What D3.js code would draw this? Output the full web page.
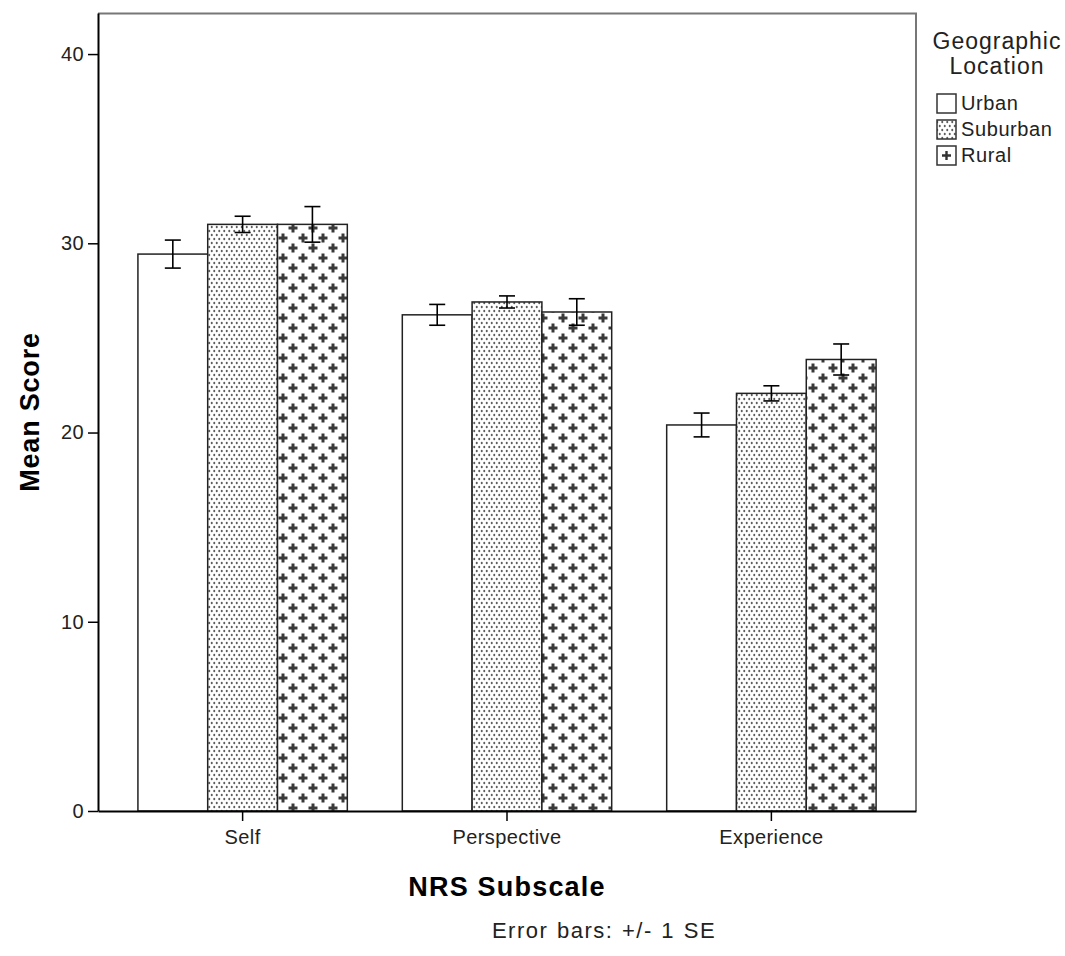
<!DOCTYPE html>
<html>
<head>
<meta charset="utf-8">
<script src="https://cdn.jsdelivr.net/npm/d3@7"></script>
<style>
  body { margin: 0; background: #fff; }
  text { font-family: "Liberation Sans", Arial, sans-serif; }
</style>
</head>
<body>
<div class="canvas"></div>
<script>
const categories = ["Self", "Perspective", "Experience"];
const groups = ["Urban", "Suburban", "Rural"];
const urbanMean = [29.43, 26.22, 20.40];
const suburbanMean = [31.0, 26.9, 22.07];
const ruralMean = [31.0, 26.37, 23.86];
const urbanSE = [0.74, 0.55, 0.63];
const suburbanSE = [0.43, 0.32, 0.40];
const ruralSE = [0.94, 0.70, 0.82];
const yTicks = [0, 10, 20, 30, 40];

const means = [urbanMean, suburbanMean, ruralMean];
const ses = [urbanSE, suburbanSE, ruralSE];
const data = [];
categories.forEach((c, ci) => {
  groups.forEach((g, gi) => {
    data.push({ category: c, group: g, mean: means[gi][ci], se: ses[gi][ci] });
  });
});

const totalWidth = 1065;
const totalHeight = 956;
const margin = { top: 13, right: 149, bottom: 145, left: 98 };
const graphWidth = totalWidth - margin.left - margin.right;
const graphHeight = totalHeight - margin.top - margin.bottom;

const svg = d3.select(".canvas")
  .append("svg")
  .attr("width", totalWidth)
  .attr("height", totalHeight);

// fill patterns
const defs = svg.append("defs");
const dots = defs.append("pattern")
  .attr("id", "dots")
  .attr("patternUnits", "userSpaceOnUse")
  .attr("width", 5).attr("height", 8);
dots.append("rect").attr("width", 5).attr("height", 8).attr("fill", "#fff");
dots.append("ellipse").attr("cx", 1.25).attr("cy", 2).attr("rx", 1).attr("ry", 1.35).attr("fill", "#5e5e5e");
dots.append("ellipse").attr("cx", 3.75).attr("cy", 6).attr("rx", 1).attr("ry", 1.35).attr("fill", "#5e5e5e");

const plus = defs.append("pattern")
  .attr("id", "plus")
  .attr("patternUnits", "userSpaceOnUse")
  .attr("width", 20).attr("height", 20);
plus.append("rect").attr("width", 20).attr("height", 20).attr("fill", "#fff");
[[5, 5], [15, 15]].forEach(([cx, cy]) => {
  plus.append("rect").attr("x", cx - 4.5).attr("y", cy - 1.5).attr("width", 9).attr("height", 3).attr("fill", "#3a3a3a");
  plus.append("rect").attr("x", cx - 1.5).attr("y", cy - 4.5).attr("width", 3).attr("height", 9).attr("fill", "#3a3a3a");
});

const fills = { Urban: "#fff", Suburban: "url(#dots)", Rural: "url(#plus)" };

const graph = svg.append("g")
  .attr("transform", `translate(${margin.left},${margin.top})`);

const x0 = d3.scaleBand().domain(categories).range([0, graphWidth])
  .paddingInner(0.208).paddingOuter(0.151);
const x1 = d3.scaleBand().domain(groups).range([0, x0.bandwidth()]);
const y = d3.scaleLinear().domain([0, 42.17]).range([graphHeight, 0]);

// frame (top and right)
graph.append("path")
  .attr("d", `M0,0.5H${graphWidth}V${graphHeight}`)
  .attr("fill", "none")
  .attr("stroke", "#777")
  .attr("stroke-width", 2);

// bars
graph.selectAll("rect.bar")
  .data(data)
  .enter()
  .append("rect")
  .attr("class", "bar")
  .attr("x", d => x0(d.category) + x1(d.group))
  .attr("y", d => y(d.mean))
  .attr("width", x1.bandwidth())
  .attr("height", d => graphHeight - y(d.mean))
  .attr("fill", d => fills[d.group])
  .attr("stroke", "#222")
  .attr("stroke-width", 1.5);

// error bars
const err = graph.selectAll("g.err")
  .data(data)
  .enter()
  .append("g")
  .attr("class", "err")
  .attr("transform", d => `translate(${x0(d.category) + x1(d.group) + x1.bandwidth() / 2},0)`)
  .attr("stroke", "#000")
  .attr("stroke-width", 1.6);
err.append("line")
  .attr("y1", d => y(d.mean + d.se)).attr("y2", d => y(d.mean - d.se));
err.append("line")
  .attr("x1", -8).attr("x2", 8)
  .attr("y1", d => y(d.mean + d.se)).attr("y2", d => y(d.mean + d.se));
err.append("line")
  .attr("x1", -8).attr("x2", 8)
  .attr("y1", d => y(d.mean - d.se)).attr("y2", d => y(d.mean - d.se));

// axes
const xAxis = d3.axisBottom(x0).tickSize(10).tickSizeOuter(0).tickPadding(9);
const yAxis = d3.axisLeft(y).tickValues(yTicks).tickSize(10).tickSizeOuter(0).tickPadding(4);

const xAxisGroup = graph.append("g")
  .attr("transform", `translate(0,${graphHeight})`)
  .call(xAxis);
const yAxisGroup = graph.append("g").call(yAxis);

[xAxisGroup, yAxisGroup].forEach(g => {
  g.select(".domain").attr("stroke", "#000").attr("stroke-width", 2);
  g.selectAll(".tick line").attr("stroke", "#000").attr("stroke-width", 1.5);
  g.selectAll("text").attr("font-size", 20).attr("fill", "#222")
    .attr("letter-spacing", 0.4)
    .style("font-family", "'Liberation Sans', Arial, sans-serif");
});

// axis titles
svg.append("text")
  .attr("x", margin.left + x0("Perspective") + x0.bandwidth() / 2)
  .attr("y", 896)
  .attr("text-anchor", "middle")
  .attr("font-size", 27)
  .attr("letter-spacing", 1.2)
  .attr("font-weight", "bold")
  .text("NRS Subscale");

svg.append("text")
  .attr("transform", `translate(39,${margin.top + graphHeight / 2}) rotate(-90)`)
  .attr("text-anchor", "middle")
  .attr("font-size", 27)
  .attr("letter-spacing", 0.8)
  .attr("font-weight", "bold")
  .text("Mean Score");

svg.append("text")
  .attr("x", 604)
  .attr("y", 938)
  .attr("text-anchor", "middle")
  .attr("font-size", 22)
  .attr("letter-spacing", 1.5)
  .attr("word-spacing", 1)
  .attr("fill", "#222")
  .text("Error bars: +/- 1 SE");

// legend
const legend = svg.append("g").attr("transform", "translate(936,0)");
legend.append("text").attr("x", 61).attr("y", 49).attr("text-anchor", "middle")
  .attr("font-size", 23).attr("letter-spacing", 1).attr("fill", "#222").text("Geographic");
legend.append("text").attr("x", 61).attr("y", 74).attr("text-anchor", "middle")
  .attr("font-size", 23).attr("letter-spacing", 1).attr("fill", "#222").text("Location");

const items = legend.selectAll("g.item")
  .data(groups)
  .enter()
  .append("g")
  .attr("class", "item")
  .attr("transform", (d, i) => `translate(0,${94 + i * 26})`);
items.append("rect")
  .attr("x", 1).attr("y", 0).attr("width", 19).attr("height", 19)
  .attr("fill", d => d === "Rural" ? "#fff" : fills[d])
  .attr("stroke", "#333").attr("stroke-width", 1.5);
items.filter(d => d === "Rural").append("path")
  .attr("d", "M6,9.5H15M10.5,5V14")
  .attr("stroke", "#333").attr("stroke-width", 2.4);
items.append("text")
  .attr("x", 25).attr("y", 16)
  .attr("font-size", 20).attr("letter-spacing", 0.6).attr("fill", "#222")
  .text(d => d);
</script>
</body>
</html>
